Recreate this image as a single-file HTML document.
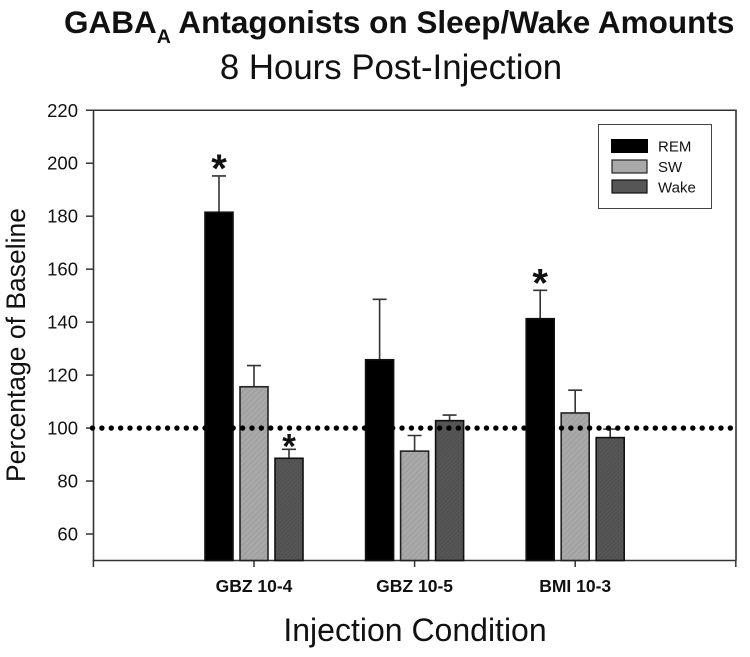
<!DOCTYPE html>
<html>
<head>
<meta charset="utf-8">
<title>GABA-A Antagonists on Sleep/Wake Amounts</title>
<style>
html,body{margin:0;padding:0;background:#fff;width:750px;height:657px;overflow:hidden}
svg{display:block}
text{font-family:"Liberation Sans",sans-serif;fill:#111}
</style>
</head>
<body>
<svg id="chart" xmlns="http://www.w3.org/2000/svg" width="750" height="657" viewBox="0 0 750 657">
<defs>
<pattern id="hatch-sw" patternUnits="userSpaceOnUse" width="4" height="4" patternTransform="rotate(45)">
<rect width="4" height="4" fill="#a9a9a9"/>
<rect width="1.5" height="4" fill="#a0a0a0"/>
</pattern>
<pattern id="hatch-wake" patternUnits="userSpaceOnUse" width="3" height="3" patternTransform="rotate(45)">
<rect width="3" height="3" fill="#565656"/>
<rect width="1" height="3" fill="#4e4e4e"/>
</pattern>
</defs>
<text x="64" y="33" font-size="31.5" font-weight="bold" fill="#000">GABA<tspan dy="10" font-size="19.5">A</tspan><tspan dy="-10"> Antagonists on Sleep/Wake Amounts</tspan></text>
<text x="391" y="79" font-size="34.8" text-anchor="middle">8 Hours Post-Injection</text>
<text transform="translate(25,345) rotate(-90)" font-size="26.5" text-anchor="middle">Percentage of Baseline</text>
<text x="415" y="641" font-size="32" text-anchor="middle">Injection Condition</text>
<g id="plot"></g>
<g>
<rect x="598.5" y="124.5" width="113" height="84" fill="#fff" stroke="#444" stroke-width="1"/>
<rect x="611.5" y="139.5" width="36" height="13" fill="#000" stroke="#000"/>
<rect x="612" y="160" width="35" height="13" fill="#a9a9a9" stroke="#222" stroke-width="1.2"/>
<rect x="612" y="180" width="35" height="13" fill="#565656" stroke="#111" stroke-width="1.2"/>
<text x="658" y="151.5" font-size="15">REM</text>
<text x="658" y="172" font-size="15">SW</text>
<text x="658" y="192.5" font-size="15">Wake</text>
</g>
</svg>
<script>
const categories = ['GBZ 10-4', 'GBZ 10-5', 'BMI 10-3'];
const seriesNames = ['REM', 'SW', 'Wake'];
const remValues = [181.5, 125.8, 141.3];
const swValues = [115.6, 91.3, 105.7];
const wakeValues = [88.6, 102.8, 96.4];
const remErrorTops = [195.2, 148.6, 152];
const swErrorTops = [123.6, 97.2, 114.3];
const wakeErrorTops = [92, 104.9, 99.6];
const yTicks = [60, 80, 100, 120, 140, 160, 180, 200, 220];
const baselineValue = 100;
const significant = [['GBZ 10-4', 'REM'], ['GBZ 10-4', 'Wake'], ['BMI 10-3', 'REM']];

const NS = 'http://www.w3.org/2000/svg';
const plot = document.getElementById('plot');
const yScale = v => 560.5 - (v - 50) * 2.6485;
const xScale = i => 254 + i * 160.6;
const barOffset = s => (s - 1) * 35;
const barWidth = 28;
const axisColor = '#333';

function make(tag, attrs, text) {
  const el = document.createElementNS(NS, tag);
  for (const k in attrs) el.setAttribute(k, attrs[k]);
  if (text !== undefined) el.textContent = text;
  plot.appendChild(el);
  return el;
}

const frame = make('path', {d: 'M93.5 ' + yScale(220) + 'V' + yScale(50) + 'H736M93.5 ' + yScale(220) + 'H736V' + yScale(50), fill: 'none', stroke: axisColor, 'stroke-width': 1.6});



yTicks.forEach(t => {
  const y = yScale(t);
  const tick = make('line', {x1: 86, x2: 93.5, y1: y, y2: y, stroke: axisColor, 'stroke-width': 1.5});
  
  
  const label = make('text', {x: 78, y: y + 6.5, 'font-size': 18.5, 'text-anchor': 'end'}, String(t));
  
  
});

[-1, 0, 1, 2, 3].forEach(i => {
  const x = xScale(i);
  const tick = make('line', {x1: x, x2: x, y1: 560, y2: 567, stroke: axisColor, 'stroke-width': 1.5});
  
  
});

categories.forEach((c, i) => {
  const label = make('text', {x: xScale(i), y: 592, 'font-size': 17.5, 'font-weight': 'bold', 'text-anchor': 'middle'}, c);
  
  
});

const seriesValues = [remValues, swValues, wakeValues];
const seriesErrors = [remErrorTops, swErrorTops, wakeErrorTops];
const seriesFills = ['#000', 'url(#hatch-sw)', 'url(#hatch-wake)'];
const seriesStrokes = ['#111', '#222', '#111'];

seriesNames.forEach((name, s) => {
  categories.forEach((c, i) => {
    const cx = xScale(i) + barOffset(s);
    const top = yScale(seriesValues[s][i]);
    const errTop = yScale(seriesErrors[s][i]);
    const err = make('path', {d: 'M' + cx + ' ' + top + 'V' + errTop + 'M' + (cx - 7) + ' ' + errTop + 'H' + (cx + 7), fill: 'none', stroke: '#333', 'stroke-width': 1.6});
    
    
    const bar = make('rect', {x: cx - barWidth / 2, y: top, width: barWidth, height: yScale(50) - top, fill: seriesFills[s], stroke: seriesStrokes[s], 'stroke-width': 1.6});
    
    
  });
});

significant.forEach(pair => {
  const i = categories.indexOf(pair[0]);
  const s = seriesNames.indexOf(pair[1]);
  const small = s === 2;
  const star = make('text', {x: xScale(i) + barOffset(s), y: yScale(seriesErrors[s][i]) + (small ? 9 : 6), 'font-size': small ? 35 : 40, 'font-weight': 'bold', 'text-anchor': 'middle', fill: '#000'}, '*');
  
  
});

const baseline = make('line', {x1: 92.5, x2: 733, y1: yScale(baselineValue), y2: yScale(baselineValue), stroke: '#000', 'stroke-width': 5.4, 'stroke-linecap': 'round', 'stroke-dasharray': '0 9.38'});


</script>
</body>
</html>
